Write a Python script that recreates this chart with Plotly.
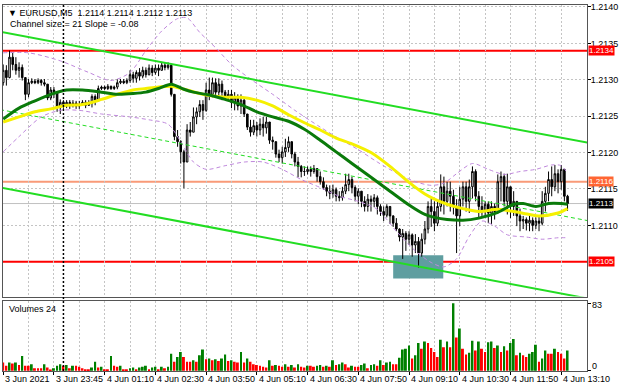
import plotly.graph_objects as go

# ---------------- data ----------------
tick_bars = [0, 16, 32, 48, 64, 80, 96, 112, 128, 144, 160, 176]
tick_labels = ["3 Jun 2021", "3 Jun 23:45", "4 Jun 01:10", "4 Jun 02:30", "4 Jun 03:50",
               "4 Jun 05:10", "4 Jun 06:30", "4 Jun 07:50", "4 Jun 09:10", "4 Jun 10:30",
               "4 Jun 11:50", "4 Jun 13:10"]
price_ticks = [1.2110, 1.2115, 1.2120, 1.2125, 1.2130, 1.2135, 1.2140]
price_tick_text = ["1.2110", "1.2115", "1.2120", "1.2125", "1.2130", "1.2135", "1.2140"]
volume_ticks = [0, 83]

first_open = 1.21296
closes = [1.21313, 1.21303, 1.21331, 1.21321, 1.21313, 1.21317, 1.21303, 1.21280, 1.21296, 1.21298,
          1.21296, 1.21299, 1.21296, 1.21294, 1.21275, 1.21286, 1.21283, 1.21262, 1.21269, 1.21266,
          1.21269, 1.21265, 1.21268, 1.21264, 1.21266, 1.21269, 1.21265, 1.21268, 1.21277, 1.21272,
          1.21288, 1.21290, 1.21288, 1.21291, 1.21288, 1.21290, 1.21296, 1.21298, 1.21296, 1.21299,
          1.21307, 1.21302, 1.21310, 1.21305, 1.21313, 1.21307, 1.21316, 1.21310, 1.21316, 1.21313,
          1.21320, 1.21317, 1.21320, 1.21280, 1.21222, 1.21215, 1.21201, 1.21187, 1.21231, 1.21228,
          1.21249, 1.21256, 1.21266, 1.21258, 1.21286, 1.21280, 1.21296, 1.21283, 1.21294, 1.21283,
          1.21277, 1.21280, 1.21269, 1.21275, 1.21264, 1.21272, 1.21253, 1.21235, 1.21228, 1.21237,
          1.21231, 1.21239, 1.21234, 1.21242, 1.21217, 1.21215, 1.21198, 1.21193, 1.21201, 1.21207,
          1.21215, 1.21198, 1.21187, 1.21181, 1.21174, 1.21174, 1.21177, 1.21174, 1.21178, 1.21167,
          1.21160, 1.21152, 1.21147, 1.21144, 1.21149, 1.21140, 1.21138, 1.21147, 1.21156, 1.21163,
          1.21152, 1.21140, 1.21147, 1.21133, 1.21126, 1.21136, 1.21133, 1.21138, 1.21126, 1.21119,
          1.21114, 1.21126, 1.21113, 1.21103, 1.21095, 1.21084, 1.21089, 1.21081, 1.21087, 1.21073,
          1.21078, 1.21062, 1.21081, 1.21095, 1.21126, 1.21119, 1.21103, 1.21126, 1.21153, 1.21133,
          1.21147, 1.21140, 1.21126, 1.21113, 1.21136, 1.21153, 1.21133, 1.21153, 1.21174, 1.21140,
          1.21126, 1.21119, 1.21129, 1.21117, 1.21126, 1.21119, 1.21160, 1.21167, 1.21133, 1.21153,
          1.21126, 1.21133, 1.21113, 1.21106, 1.21108, 1.21103, 1.21107, 1.21100, 1.21106, 1.21103,
          1.21133, 1.21144, 1.21163, 1.21153, 1.21171, 1.21160, 1.21177, 1.21140, 1.21130]
highs = [1.21321, 1.21320, 1.21340, 1.21337, 1.21331, 1.21324, 1.21321, 1.21303, 1.21301, 1.21302,
         1.21301, 1.21302, 1.21301, 1.21301, 1.21294, 1.21290, 1.21290, 1.21283, 1.21273, 1.21272,
         1.21272, 1.21272, 1.21272, 1.21271, 1.21271, 1.21272, 1.21272, 1.21272, 1.21280, 1.21280,
         1.21292, 1.21292, 1.21292, 1.21294, 1.21292, 1.21292, 1.21301, 1.21301, 1.21301, 1.21302,
         1.21313, 1.21311, 1.21313, 1.21316, 1.21318, 1.21317, 1.21321, 1.21320, 1.21321, 1.21321,
         1.21324, 1.21324, 1.21324, 1.21321, 1.21280, 1.21231, 1.21217, 1.21204, 1.21239, 1.21242,
         1.21262, 1.21262, 1.21272, 1.21272, 1.21296, 1.21303, 1.21303, 1.21302, 1.21302, 1.21299,
         1.21286, 1.21286, 1.21286, 1.21283, 1.21280, 1.21280, 1.21276, 1.21253, 1.21245, 1.21245,
         1.21242, 1.21247, 1.21249, 1.21249, 1.21242, 1.21222, 1.21215, 1.21204, 1.21208, 1.21219,
         1.21222, 1.21215, 1.21201, 1.21194, 1.21183, 1.21181, 1.21181, 1.21181, 1.21183, 1.21178,
         1.21174, 1.21166, 1.21156, 1.21155, 1.21156, 1.21152, 1.21147, 1.21153, 1.21171, 1.21171,
         1.21167, 1.21155, 1.21151, 1.21147, 1.21140, 1.21143, 1.21141, 1.21143, 1.21141, 1.21129,
         1.21126, 1.21129, 1.21126, 1.21114, 1.21110, 1.21096, 1.21095, 1.21092, 1.21092, 1.21089,
         1.21088, 1.21084, 1.21089, 1.21106, 1.21133, 1.21137, 1.21133, 1.21136, 1.21170, 1.21167,
         1.21160, 1.21160, 1.21149, 1.21136, 1.21153, 1.21160, 1.21160, 1.21163, 1.21181, 1.21177,
         1.21147, 1.21140, 1.21133, 1.21133, 1.21133, 1.21130, 1.21170, 1.21174, 1.21171, 1.21171,
         1.21153, 1.21147, 1.21133, 1.21123, 1.21113, 1.21111, 1.21113, 1.21111, 1.21111, 1.21113,
         1.21147, 1.21153, 1.21174, 1.21181, 1.21183, 1.21177, 1.21183, 1.21177, 1.21142]
lows = [1.21292, 1.21292, 1.21302, 1.21313, 1.21307, 1.21303, 1.21299, 1.21272, 1.21276, 1.21294,
        1.21294, 1.21294, 1.21292, 1.21291, 1.21272, 1.21272, 1.21275, 1.21256, 1.21253, 1.21260,
        1.21261, 1.21260, 1.21262, 1.21260, 1.21260, 1.21264, 1.21261, 1.21264, 1.21262, 1.21265,
        1.21271, 1.21286, 1.21286, 1.21286, 1.21286, 1.21286, 1.21287, 1.21294, 1.21294, 1.21294,
        1.21296, 1.21296, 1.21296, 1.21299, 1.21302, 1.21303, 1.21306, 1.21305, 1.21307, 1.21305,
        1.21313, 1.21313, 1.21314, 1.21277, 1.21217, 1.21208, 1.21185, 1.21151, 1.21187, 1.21222,
        1.21228, 1.21239, 1.21249, 1.21245, 1.21256, 1.21272, 1.21276, 1.21277, 1.21276, 1.21272,
        1.21272, 1.21273, 1.21261, 1.21258, 1.21258, 1.21253, 1.21249, 1.21231, 1.21222, 1.21224,
        1.21222, 1.21224, 1.21222, 1.21226, 1.21212, 1.21204, 1.21193, 1.21187, 1.21185, 1.21194,
        1.21201, 1.21192, 1.21181, 1.21166, 1.21166, 1.21168, 1.21170, 1.21167, 1.21171, 1.21160,
        1.21156, 1.21149, 1.21140, 1.21136, 1.21138, 1.21133, 1.21133, 1.21134, 1.21143, 1.21147,
        1.21144, 1.21133, 1.21129, 1.21125, 1.21119, 1.21119, 1.21119, 1.21125, 1.21115, 1.21113,
        1.21106, 1.21111, 1.21102, 1.21098, 1.21092, 1.21078, 1.21054, 1.21065, 1.21073, 1.21057,
        1.21062, 1.21042, 1.21057, 1.21074, 1.21089, 1.21098, 1.21092, 1.21099, 1.21119, 1.21115,
        1.21126, 1.21119, 1.21115, 1.21062, 1.21099, 1.21126, 1.21119, 1.21117, 1.21137, 1.21133,
        1.21110, 1.21113, 1.21111, 1.21103, 1.21102, 1.21108, 1.21117, 1.21133, 1.21126, 1.21115,
        1.21110, 1.21113, 1.21099, 1.21092, 1.21095, 1.21093, 1.21092, 1.21092, 1.21095, 1.21092,
        1.21100, 1.21119, 1.21133, 1.21140, 1.21147, 1.21144, 1.21149, 1.21133, 1.21120]
volumes = [10, 6, 10, 9, 10, 7, 18, 6, 6, 8,
           3, 3, 3, 8, 4, 1, 3, 6, 8, 6,
           7, 3, 6, 6, 5, 3, 2, 2, 4, 11,
           4, 5, 2, 2, 18, 6, 5, 6, 2, 2,
           3, 4, 2, 4, 5, 6, 2, 4, 5, 2,
           5, 3, 5, 21, 11, 17, 23, 17, 11, 11,
           13, 11, 19, 26, 14, 15, 13, 14, 12, 15,
           20, 12, 13, 11, 10, 23, 10, 15, 11, 8,
           7, 6, 5, 4, 13, 6, 7, 6, 5, 8,
           5, 7, 4, 8, 5, 4, 6,
           6, 5, 6, 7, 5, 6, 5, 13,
           7, 8, 10, 8, 4, 6, 5, 5, 7, 9,
           3, 7, 8, 6, 13, 7, 10, 11, 8, 8,
           16, 26, 27, 31, 15, 19, 34, 27, 36, 34,
           28, 23, 17, 38, 29, 36, 29, 83, 41, 52,
           27, 20, 22, 37, 25, 36, 27, 23, 35, 36,
           28, 31, 23, 30, 25, 34, 39, 19, 22, 19,
           17, 21, 23, 32, 11, 15, 25, 21, 21, 27,
           23, 21, 15, 25]

ma_fast_bars = [0, 5, 10, 15, 20, 25, 31, 36, 41, 45, 49, 53, 57, 60, 65, 70, 75, 80, 85, 90,
                95, 100, 105, 110, 116, 122, 128, 133, 136, 140, 145, 150, 156, 161, 164, 168,
                172, 176, 178]
ma_fast_vals = [1.21246, 1.21261, 1.21271, 1.21280, 1.21286, 1.21286, 1.21283, 1.21280, 1.21281,
                1.21283, 1.21288, 1.21294, 1.21287, 1.21283, 1.21279, 1.21273, 1.21266, 1.21256,
                1.21249, 1.21243, 1.21232, 1.21217, 1.21201, 1.21185, 1.21166, 1.21147, 1.21128,
                1.21115, 1.21111, 1.21108, 1.21107, 1.21110, 1.21118, 1.21129, 1.21130, 1.21126,
                1.21130, 1.21130, 1.21129]
ma_slow_bars = [0, 5, 10, 15, 20, 25, 31, 36, 41, 45, 49, 53, 57, 64, 70, 75, 80, 85, 90, 95,
                100, 105, 110, 116, 122, 128, 133, 136, 140, 145, 150, 156, 161, 166, 169, 175, 178]
ma_slow_vals = [1.21242, 1.21249, 1.21256, 1.21260, 1.21265, 1.21266, 1.21273, 1.21280, 1.21286,
                1.21288, 1.21290, 1.21291, 1.21287, 1.21279, 1.21276, 1.21276, 1.21272, 1.21264,
                1.21252, 1.21241, 1.21231, 1.21220, 1.21212, 1.21200, 1.21181, 1.21159, 1.21143,
                1.21136, 1.21129, 1.21123, 1.21119, 1.21122, 1.21119, 1.21115, 1.21113, 1.21117,
                1.21123]
bb_up_bars = [0, 8, 18, 27, 34, 40, 45, 50, 55, 58, 62, 67, 72, 78, 85, 92, 100, 106, 112, 118,
              124, 130, 135, 139, 143, 148, 153, 158, 163, 168, 173, 176, 178]
bb_up_vals = [1.21337, 1.21337, 1.21326, 1.21310, 1.21299, 1.21310, 1.21340, 1.21367, 1.21384,
              1.21385, 1.21365, 1.21344, 1.21321, 1.21301, 1.21280, 1.21258, 1.21235, 1.21219,
              1.21204, 1.21187, 1.21172, 1.21160, 1.21155, 1.21158, 1.21171, 1.21185, 1.21177,
              1.21170, 1.21174, 1.21177, 1.21183, 1.21182, 1.21171]
bb_lo_bars = [0, 5, 12, 18, 24, 31, 40, 46, 52, 56, 60, 64, 70, 76, 82, 88, 94, 100, 106, 112,
              118, 124, 130, 135, 139, 143, 147, 151, 155, 159, 165, 170, 175, 178]
bb_lo_vals = [1.21201, 1.21222, 1.21249, 1.21258, 1.21258, 1.21253, 1.21249, 1.21245, 1.21239,
              1.21215, 1.21187, 1.21177, 1.21182, 1.21187, 1.21187, 1.21177, 1.21163, 1.21152,
              1.21140, 1.21133, 1.21122, 1.21092, 1.21065, 1.21049, 1.21043, 1.21054, 1.21085,
              1.21106, 1.21099, 1.21087, 1.21084, 1.21081, 1.21083, 1.21083]
# regression channel (end points)
channel_bars = [-1, 185]
channel_upper = [1.21366, 1.21213]
channel_mid = [1.21259, 1.21106]
channel_lower = [1.21152, 1.20999]
# horizontal levels and zone
red_levels = [1.2134, 1.2105]
mid_level = 1.2116
bid_price = 1.2113
zone_bars = [123.0, 138.8]
zone_prices = [1.21027, 1.21059]
separator_bar = 19

header = "\u25bc EURUSD,M5  1.2114 1.2114 1.2112 1.2113"
subheader = "Channel size = 21 Slope = -0.08"
vol_title = "Volumes 24"

# ---------------- figure ----------------
FONT = "Liberation Sans, Arial, sans-serif"
bars = list(range(len(closes)))
opens = [first_open] + closes[:-1]
vol_colors = ["#FF0000"] + ["#008000" if volumes[i] > volumes[i - 1] else "#FF0000"
                            for i in range(1, len(volumes))]

fig = go.Figure()
fig.add_trace(go.Candlestick(
    x=bars, open=opens, high=highs, low=lows, close=closes,
    increasing=dict(line=dict(color="black", width=1), fillcolor="white"),
    decreasing=dict(line=dict(color="black", width=1), fillcolor="black"),
    whiskerwidth=0, xaxis="x", yaxis="y", hoverinfo="skip"))

band_line = dict(color="#BF88DC", width=1, dash="4px,3px", shape="spline", smoothing=0.8)
fig.add_trace(go.Scatter(x=bb_up_bars, y=bb_up_vals, mode="lines", line=band_line))
fig.add_trace(go.Scatter(x=bb_lo_bars, y=bb_lo_vals, mode="lines", line=band_line))

fig.add_trace(go.Scatter(x=channel_bars, y=channel_upper, mode="lines",
                         line=dict(color="#22DD22", width=2)))
fig.add_trace(go.Scatter(x=channel_bars, y=channel_lower, mode="lines",
                         line=dict(color="#22DD22", width=2)))
fig.add_trace(go.Scatter(x=channel_bars, y=channel_mid, mode="lines",
                         line=dict(color="#22DD22", width=1, dash="4px,3px")))

fig.add_trace(go.Scatter(x=ma_slow_bars, y=ma_slow_vals, mode="lines",
                         line=dict(color="#F5F000", width=3, shape="spline", smoothing=0.8)))
fig.add_trace(go.Scatter(x=ma_fast_bars, y=ma_fast_vals, mode="lines",
                         line=dict(color="#0A7A0A", width=3, shape="spline", smoothing=0.8)))

fig.add_trace(go.Bar(x=bars, y=volumes, marker=dict(color=vol_colors, line=dict(width=0)),
                     width=0.62, xaxis="x2", yaxis="y2", hoverinfo="skip"))

shapes = []
shapes.append(dict(type="rect", xref="x", yref="y", x0=zone_bars[0], x1=zone_bars[1],
                   y0=zone_prices[0], y1=zone_prices[1], fillcolor="#5F9EA0",
                   line=dict(width=0), layer="between"))
shapes.append(dict(type="line", xref="paper", yref="y", x0=0, x1=1, y0=bid_price, y1=bid_price,
                   line=dict(color="#C0C0C0", width=1), layer="between"))
shapes.append(dict(type="line", xref="paper", yref="y", x0=0, x1=1, y0=mid_level, y1=mid_level,
                   line=dict(color="#F99A78", width=2), layer="between"))
for lv in red_levels:
    shapes.append(dict(type="line", xref="paper", yref="y", x0=0, x1=1, y0=lv, y1=lv,
                       line=dict(color="#FF0000", width=2), layer="between"))
shapes.append(dict(type="line", xref="x", yref="paper", x0=separator_bar, x1=separator_bar,
                   y0=0, y1=1, line=dict(color="black", width=1.5, dash="2px,2px"), layer="above"))

annotations = []
for lv, col in [(red_levels[0], "#FF0000"), (red_levels[1], "#FF0000"),
                (mid_level, "#FF6633"), (bid_price, "#000000")]:
    annotations.append(dict(x=1, xref="paper", y=lv, yref="y", xanchor="left", yanchor="middle",
                            xshift=1, text=f"{lv:.4f}", showarrow=False, bgcolor=col,
                            borderpad=0, font=dict(family=FONT, size=8, color="white")))
for b, t in zip(tick_bars, tick_labels):
    annotations.append(dict(x=b, xref="x2", y=0, yref="paper", xanchor="left", yanchor="top",
                            yshift=-1, text=t, showarrow=False,
                            font=dict(family=FONT, size=9, color="black")))
# volume scale labels (MT4 draws them inset from the panel edges)
annotations.append(dict(x=1, xref="paper", y=volume_ticks[1], yref="y2", xanchor="left",
                        yanchor="middle", xshift=3, yshift=-2, text=str(volume_ticks[1]),
                        showarrow=False, font=dict(family=FONT, size=9, color="black")))
annotations.append(dict(x=1, xref="paper", y=volume_ticks[0], yref="y2", xanchor="left",
                        yanchor="middle", xshift=3, yshift=5, text=str(volume_ticks[0]),
                        showarrow=False, font=dict(family=FONT, size=9, color="black")))
annotations.append(dict(x=0, xref="paper", y=1, yref="paper", xanchor="left", yanchor="top",
                        xshift=3, yshift=-1, text=header, showarrow=False,
                        font=dict(family=FONT, size=9, color="black")))
annotations.append(dict(x=0, xref="paper", y=1, yref="paper", xanchor="left", yanchor="top",
                        xshift=5, yshift=-12, text=subheader, showarrow=False,
                        font=dict(family=FONT, size=9, color="black")))
annotations.append(dict(x=0, xref="paper", y=0.1924, yref="paper", xanchor="left", yanchor="top",
                        xshift=4, yshift=-1, text=vol_title, showarrow=False,
                        font=dict(family=FONT, size=9, color="black")))

grid = dict(showgrid=True, gridcolor="#C4C4C4", griddash="2px,2px", gridwidth=1)
frame = dict(showline=True, mirror=True, linecolor="#555555", linewidth=1, zeroline=False)

fig.update_layout(
    width=620, height=388,
    margin=dict(l=2, r=33, t=2, b=17, pad=0),
    paper_bgcolor="white", plot_bgcolor="white",
    showlegend=False, font=dict(family=FONT, size=9, color="black"),
    shapes=shapes, annotations=annotations,
    xaxis=dict(domain=[0, 1], anchor="y", range=[-0.063, 184.13], tickmode="linear", tick0=0,
               dtick=16, showticklabels=False, ticks="",
               minor=dict(dtick=8, tick0=0, showgrid=True, gridcolor="#C4C4C4",
                          griddash="2px,2px"),
               rangeslider=dict(visible=False), **grid, **frame),
    xaxis2=dict(domain=[0, 1], anchor="y2", matches="x", range=[-0.063, 184.13],
                tickmode="linear", tick0=0, dtick=16, showticklabels=False, ticks="outside",
                ticklen=3, tickcolor="black",
                minor=dict(dtick=8, tick0=0, showgrid=True, gridcolor="#C4C4C4",
                           griddash="2px,2px"),
                **grid, **frame),
    yaxis=dict(domain=[0.2033, 1], anchor="x", side="right", range=[1.210022, 1.214027],
               tickmode="array", tickvals=price_ticks, ticktext=price_tick_text,
               ticks="outside", ticklen=3, tickcolor="black", ticklabelstandoff=-2,
               ticklabeloverflow="allow",
               tickfont=dict(family=FONT, size=9, color="black"), **grid, **frame),
    yaxis2=dict(domain=[0, 0.1924], anchor="x2", side="right", range=[-0.3, 86.2],
                tickmode="array", tickvals=volume_ticks, showticklabels=False,
                ticks="outside", ticklen=3, tickcolor="black", showgrid=False, **frame),
)

fig.write_html("out.html", config={"displayModeBar": False},
               post_script="document.body.style.margin='0px';")
